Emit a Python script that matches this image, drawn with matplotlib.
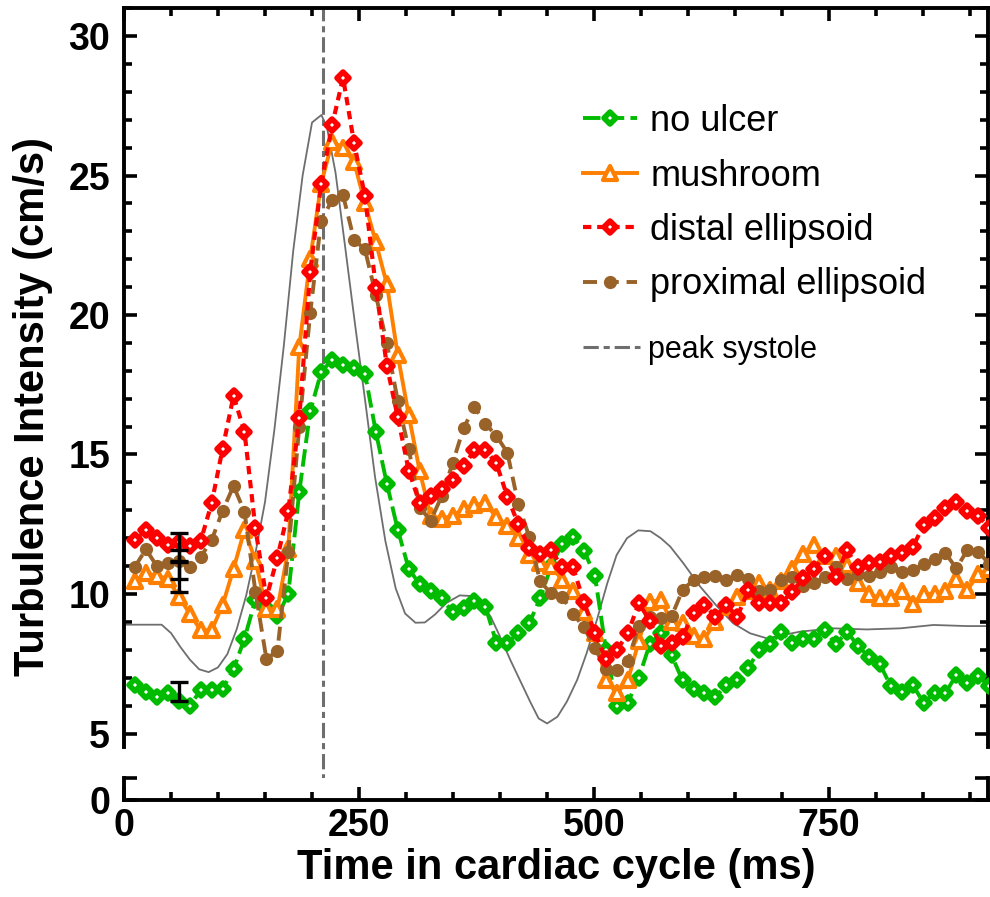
import numpy as np
import matplotlib
matplotlib.use("Agg")
import matplotlib.pyplot as plt
from matplotlib.markers import MarkerStyle
from matplotlib.ticker import MultipleLocator

# ---------------- data ----------------
frame_ms = 11.65
no_ulcer = [6.75, 6.5, 6.3, 6.45, 6.15, 6.0, 6.55, 6.55, 6.6, 7.3,
            8.4, 9.8, 9.5, 9.2, 10.0, 13.65, 16.55, 17.95, 18.4, 18.2,
            18.1, 17.9, 15.8, 13.95, 12.3, 10.9, 10.35, 10.1, 9.85, 9.35,
            9.5, 9.75, 9.55, 8.25, 8.25, 8.6, 8.95, 9.85, 11.0, 11.8,
            12.05, 11.55, 10.65, 8.0, 6.0, 6.1, 7.0, 8.2, 8.6, 7.8,
            6.9, 6.6, 6.45, 6.3, 6.75, 6.9, 7.35, 8.0, 8.2, 8.65,
            8.25, 8.4, 8.4, 8.7, 8.2, 8.65, 8.15, 7.75, 7.5, 6.7,
            6.5, 6.75, 6.1, 6.45, 6.45, 7.1, 6.8, 7.05, 6.7]
mushroom = [10.45, 10.75, 10.65, 10.55, 9.9, 9.3, 8.7, 8.7, 9.6, 10.9,
            12.3, 11.2, 9.45, 9.45, 11.6, 18.85, 22.0, 24.7, 26.2, 26.0,
            25.5, 24.0, 22.6, 21.1, 18.55, 16.4, 14.4, 12.8, 12.7, 12.8,
            13.05, 13.2, 13.25, 12.75, 12.45, 12.0, 11.4, 11.1, 11.0, 10.5,
            10.1, 9.35, 8.6, 6.9, 6.45, 6.9, 8.3, 9.7, 9.8, 9.0,
            8.95, 8.5, 8.4, 9.0, 9.55, 9.9, 10.1, 10.4, 10.15, 10.45,
            10.9, 11.45, 11.75, 11.35, 11.35, 11.05, 10.4, 10.0, 9.85, 9.85,
            10.1, 9.65, 10.0, 10.0, 10.1, 10.55, 10.15, 10.7, 10.9]
distal = [11.93, 12.28, 12.02, 11.75, 11.88, 11.71, 11.9, 13.25, 15.2, 17.1,
          15.82, 12.35, 9.85, 11.3, 12.98, 16.3, 21.55, 24.7, 26.8, 28.5,
          26.18, 24.26, 20.98, 18.18, 16.33, 14.42, 13.25, 13.5, 13.77, 14.08,
          14.58, 15.15, 15.16, 14.68, 13.49, 12.5, 11.64, 11.43, 11.58, 10.95,
          10.95, 9.7, 8.59, 7.67, 7.99, 8.59, 9.67, 9.05, 8.13, 8.23,
          8.47, 9.31, 9.61, 9.19, 9.61, 9.19, 10.14, 9.67, 9.67, 9.67,
          10.08, 10.56, 10.9, 11.37, 10.6, 11.58, 10.95, 11.1, 11.16, 11.37,
          11.46, 11.67, 12.47, 12.71, 13.1, 13.28, 12.98, 12.8, 12.38]
proximal = [10.98, 11.6, 11.0, 11.1, 11.2, 10.95, 11.33, 11.93, 12.98, 13.87,
            12.95, 10.08, 7.68, 7.95, 11.5, 16.0, 20.07, 23.38, 24.12, 24.29,
            22.7, 22.35, 20.7, 18.99, 16.91, 15.2, 13.1, 12.63, 13.5, 14.68,
            15.95, 16.7, 16.1, 15.67, 15.07, 13.22, 12.05, 10.45, 10.02, 9.9,
            9.3, 8.8, 8.05, 7.3, 7.28, 7.6, 8.85, 9.19, 9.13, 9.2,
            10.15, 10.5, 10.6, 10.65, 10.5, 10.67, 10.55, 10.1, 10.15, 10.5,
            10.6, 10.3, 10.4, 10.6, 10.95, 10.53, 10.7, 10.65, 10.78, 10.95,
            10.8, 10.85, 11.07, 11.25, 11.46, 10.92, 11.58, 11.52, 11.07]
time_ms = frame_ms * np.arange(1, len(no_ulcer) + 1)

# scaled flow waveform (thin grey reference curve)
flow_t = [0, 20, 40, 50, 60, 70, 80, 90, 100, 110, 120, 130, 140, 150, 160, 170,
          180, 190, 200, 210, 216, 225, 235, 246, 257, 267, 278, 289, 299, 310,
          320, 331, 343, 357, 368, 379, 390, 400, 411, 421, 432, 441, 450, 461,
          471, 482, 492, 503, 514, 524, 535, 547, 560, 571, 581, 595, 613, 631,
          648, 666, 684, 701, 719, 754, 790, 826, 861, 897, 920]
flow_v = [8.9, 8.9, 8.9, 8.6, 8.1, 7.65, 7.3, 7.2, 7.37, 7.85, 8.75, 9.95, 11.5,
          13.3, 15.9, 18.9, 22.3, 25.0, 26.9, 27.17, 26.7, 25.1, 22.5, 19.6, 16.8,
          14.2, 11.9, 10.2, 9.3, 8.97, 8.98, 9.27, 9.68, 9.95, 9.93, 9.67, 9.19,
          8.47, 7.63, 6.92, 6.14, 5.54, 5.36, 5.6, 6.14, 6.92, 7.87, 9.07, 10.38,
          11.4, 12.0, 12.28, 12.25, 12.0, 11.7, 11.1, 10.26, 9.55, 8.95, 8.59,
          8.41, 8.53, 8.65, 8.77, 8.73, 8.77, 8.89, 8.85, 8.85]

peak_systole_ms = 212
err_t = 59
err_center = [11.68, 11.04, 10.62, 6.5]
err_half = [0.52, 0.52, 0.55, 0.35]

labels = ["no ulcer", "mushroom", "distal ellipsoid", "proximal ellipsoid"]
c_green, c_orange, c_red, c_brown = "#00bb00", "#ff7f00", "#ff0000", "#996228"
c_grey = "#6e6e6e"

# ---------------- figure / broken axes ----------------
plt.rcParams["font.family"] = ["Liberation Sans", "DejaVu Sans"]
plt.rcParams["font.weight"] = "bold"

W, H = 990, 897
L, R = 124, 988
top_px, up_bot_px, lo_top_px, lo_bot_px = 8, 747, 778, 800
fig = plt.figure(figsize=(W / 100, H / 100), dpi=100)
ax = fig.add_axes([L / W, 1 - up_bot_px / H, (R - L) / W, (up_bot_px - top_px) / H])
axb = fig.add_axes([L / W, 1 - lo_bot_px / H, (R - L) / W, (lo_bot_px - lo_top_px) / H],
                   sharex=ax)

px_per_unit = 27.9
y_top = 10 + (594 - top_px) / px_per_unit
y_bot = 10 - (up_bot_px - 594) / px_per_unit
ax.set_ylim(y_bot, y_top)
lo_top = (lo_bot_px - lo_top_px) / px_per_unit
axb.set_ylim(0, lo_top)
ax.set_xlim(0, 919)

# ---------------- plot ----------------
ax.plot(flow_t, flow_v, color=c_grey, lw=1.3, zorder=2)

# peak systole line spanning both panels (through the gap)
y_axis_bottom_val = 10 - (lo_bot_px - 594) / px_per_unit
ymin_frac = (y_axis_bottom_val - y_bot) / (y_top - y_bot)
ps_line = ax.axvline(peak_systole_ms, ymin=ymin_frac, ymax=1, color=c_grey, lw=2.2,
                     dashes=(5, 1.6, 2, 1.6), clip_on=False, zorder=1.5)

mk_round_d = MarkerStyle("D", joinstyle="round")
h_g, = ax.plot(time_ms, no_ulcer, color=c_green, lw=2.8, dashes=(4.5, 1.6),
               marker=mk_round_d, ms=6.5, mew=4.0, mfc="white", mec=c_green, zorder=3)
h_o, = ax.plot(time_ms, mushroom, color=c_orange, lw=2.8, ls="-",
               marker=MarkerStyle("^", joinstyle="round"), ms=10.5, mew=3.0,
               mfc="white", mec=c_orange, zorder=4)
h_b, = ax.plot(time_ms, proximal, color=c_brown, lw=2.8, dashes=(3.6, 2.0),
               marker="o", ms=9.5, mew=0, mfc=c_brown, zorder=5)
h_r, = ax.plot(time_ms, distal, color=c_red, lw=3.0, dashes=(2.0, 1.4),
               marker=mk_round_d, ms=6.5, mew=4.0, mfc="white", mec=c_red, zorder=6)

ax.errorbar([err_t] * len(err_center), err_center, yerr=err_half, fmt="none",
            ecolor="black", elinewidth=2.4, capsize=6.5, capthick=2.4, zorder=7)

# ---------------- axes styling ----------------
for a in (ax, axb):
    for s in a.spines.values():
        s.set_linewidth(2.8)
ax.spines["bottom"].set_visible(False)
axb.spines["top"].set_visible(False)

ax.xaxis.set_major_locator(MultipleLocator(250))
ax.xaxis.set_minor_locator(MultipleLocator(50))
ax.yaxis.set_major_locator(MultipleLocator(5))
ax.yaxis.set_minor_locator(MultipleLocator(1))

ax.tick_params(axis="both", which="both", direction="in", width=2.6,
               top=True, right=True, bottom=False, labelbottom=False,
               labelsize=27, pad=10)
ax.tick_params(which="major", length=9.5)
ax.tick_params(which="minor", length=5.5)

axb.set_yticks([0, lo_top])
axb.set_yticklabels(["0", ""])
axb.yaxis.set_minor_locator(plt.NullLocator())
axb.tick_params(axis="both", which="both", direction="in", width=2.6,
                top=False, right=True, bottom=True, labelbottom=True,
                labelsize=27)
axb.tick_params(axis="y", which="major", length=9.5, pad=10)
axb.tick_params(axis="x", which="major", length=9.5, pad=6)
axb.tick_params(axis="x", which="minor", length=5.5)

fig.text(13 / W, 1 - 406 / H, "Turbulence Intensity (cm/s)", rotation=90,
         ha="left", va="center", fontsize=30, fontweight="bold")
fig.text((L + R) / 2 / W, 1 - 848 / H, "Time in cardiac cycle (ms)",
         ha="center", va="top", fontsize=30, fontweight="bold")

# ---------------- legends ----------------
leg1 = ax.legend([h_g, h_o, h_r, h_b], labels, loc="upper left",
                 bbox_to_anchor=(583 / W, 1 - 104 / H), bbox_transform=fig.transFigure,
                 frameon=False, prop={"family": "Liberation Sans", "weight": "normal", "size": 26},
                 handlelength=1.5, handletextpad=0.36, labelspacing=0.54,
                 borderpad=0, borderaxespad=0, numpoints=1)
ax.add_artist(leg1)
ax.legend([ps_line], ["peak systole"], loc="upper left",
          bbox_to_anchor=(583 / W, 1 - 335 / H), bbox_transform=fig.transFigure,
          frameon=False, prop={"family": "Liberation Sans", "weight": "normal", "size": 22},
          handlelength=1.86, handletextpad=0.26, borderpad=0, borderaxespad=0)

fig.savefig("out.png", dpi=100)
